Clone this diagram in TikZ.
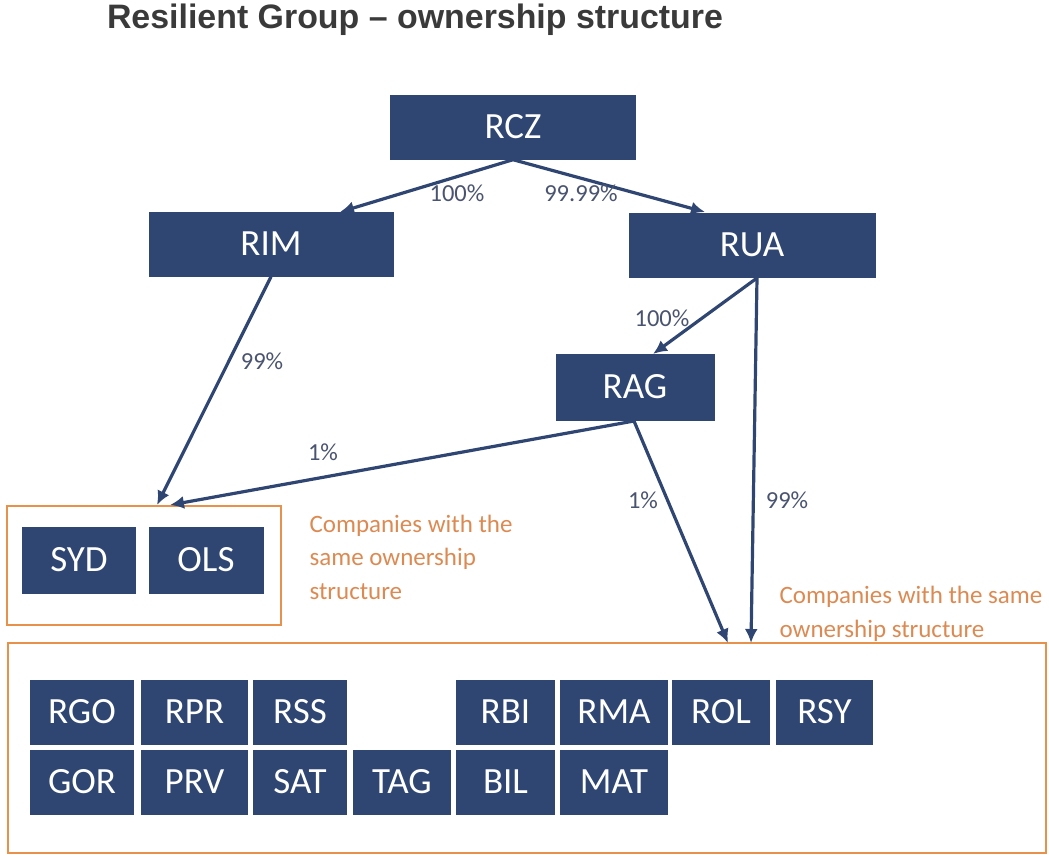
\documentclass[tikz,border=0pt]{standalone}
\usepackage{fontspec}
\setmainfont{Carlito}
\newfontfamily\headfont{Liberation Sans}
\usetikzlibrary{arrows.meta}
\definecolor{navy}{HTML}{2F4672}
\definecolor{pctgray}{HTML}{4A5470}
\definecolor{grpline}{HTML}{E8914A}
\definecolor{grptext}{HTML}{DC8A52}
\definecolor{headgray}{HTML}{3A3A3A}
\tikzset{
  co/.style={fill=navy, text=white, inner sep=0pt, minimum height=65pt, font=\fontsize{37}{42}\selectfont},
  own/.style={draw=navy, line width=3.2pt, -{Latex[length=14pt,width=13pt]}},
  pct/.style={text=pctgray, font=\fontsize{24.5}{28}\selectfont},
  grp/.style={draw=grpline, line width=2pt, inner sep=0pt},
  note/.style={text=grptext, align=left, anchor=west, font=\fontsize{25}{33.5}\selectfont}
}
\begin{document}
\begin{tikzpicture}[x=1pt,y=-1pt] % pixel units, y downwards
\useasboundingbox (0,0) rectangle (1049,855);
\node[text=headgray, font=\headfont\bfseries\fontsize{33.9}{38}\selectfont] (title) at (415,20) {Resilient Group – ownership structure};

% holding levels
\node[co, minimum width=246pt] (RCZ) at (513,127) {RCZ};
\node[co, minimum width=245pt] (RIM) at (271,244) {RIM};
\node[co, minimum width=247pt] (RUA) at (752,245) {RUA};
\node[co, minimum width=159pt, minimum height=67pt] (RAG) at (635,387) {RAG};

% group boxes
\node[grp, minimum width=274pt, minimum height=119pt] (grpA) at (144,565) {};
\node[grp, minimum width=1038pt, minimum height=210pt] (grpB) at (527,748) {};
\node[note] (noteA) at (306,557) {Companies with the\\same ownership\\structure};
\node[note] (noteB) at (776,614) {Companies with the same\\ownership structure};

\node[co, minimum width=114pt, minimum height=67pt] (SYD) at (79,560) {SYD};
\node[co, minimum width=115pt, minimum height=67pt] (OLS) at (206,560) {OLS};

% first row
\node[co, minimum width=104pt] (RGO) at (82,712) {RGO};
\node[co, minimum width=107pt] (RPR) at (194.5,712) {RPR};
\node[co, minimum width=94pt] (RSS) at (300,712) {RSS};
\node[co, minimum width=99pt] (RBI) at (505.5,712) {RBI};
\node[co, minimum width=108pt] (RMA) at (614,712) {RMA};
\node[co, minimum width=98pt] (ROL) at (721,712) {ROL};
\node[co, minimum width=97pt] (RSY) at (824.5,712) {RSY};
% second row
\node[co, minimum width=104pt] (GOR) at (82,782) {GOR};
\node[co, minimum width=107pt] (PRV) at (194.5,782) {PRV};
\node[co, minimum width=94pt] (SAT) at (300,782) {SAT};
\node[co, minimum width=98pt] (TAG) at (402,782) {TAG};
\node[co, minimum width=99pt] (BIL) at (505.5,782) {BIL};
\node[co, minimum width=108pt] (MAT) at (614,782) {MAT};

% arrow end points
\coordinate (rimin) at (340,212);
\coordinate (ruain) at (705,212);
\coordinate (ruaout) at (757,278);
\coordinate (ragin) at (653,354);
\coordinate (ragout) at (634,421);
\coordinate (grpAin1) at (157,505);
\coordinate (grpAin2) at (170,505);
\coordinate (grpBin1) at (728,643);
\coordinate (grpBin2) at (751,643);

\draw[own] (RCZ.south) -- (rimin);
\draw[own] (RCZ.south) -- (ruain);
\draw[own] (RIM.south) -- (grpAin1);
\draw[own] (ruaout) -- (ragin);
\draw[own] (ruaout) -- (grpBin2);
\draw[own] (ragout) -- (grpAin2);
\draw[own] (ragout) -- (grpBin1);

% shares
\node[pct] (p1) at (457,193) {100\%};
\node[pct] (p2) at (581,193) {99.99\%};
\node[pct] (p3) at (262,361) {99\%};
\node[pct] (p4) at (662,318) {100\%};
\node[pct] (p5) at (323,452) {1\%};
\node[pct] (p6) at (643,500) {1\%};
\node[pct] (p7) at (787,500) {99\%};
\end{tikzpicture}
\end{document}
